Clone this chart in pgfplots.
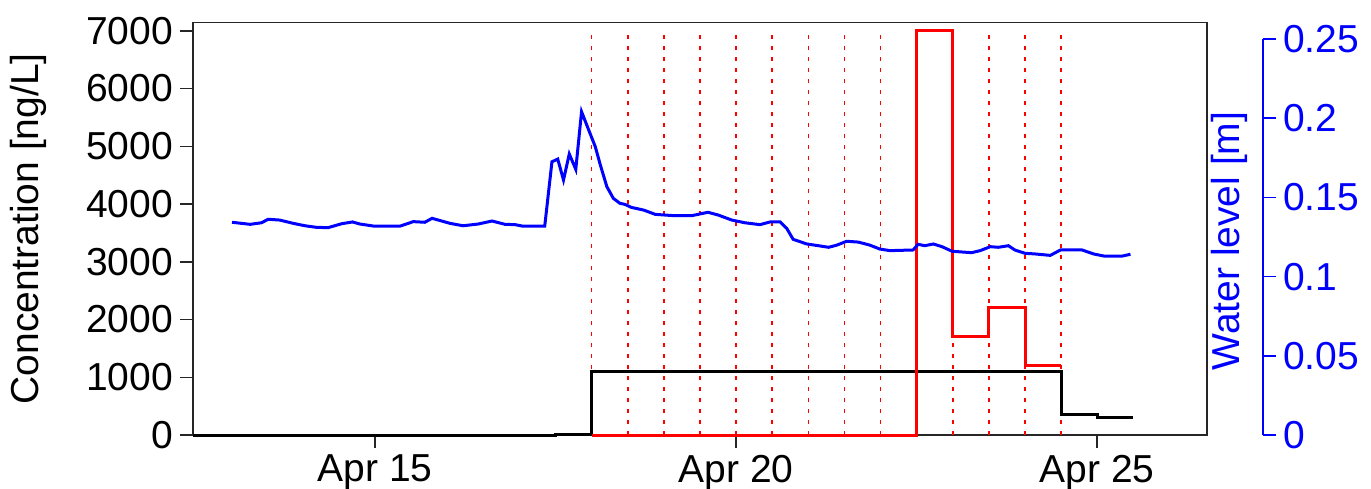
\documentclass[border=0pt]{standalone}
\usepackage{fontspec}
\setmainfont{Liberation Sans}
\usepackage{pgfplots}
\pgfplotsset{compat=1.18}
\begin{document}
\begin{tikzpicture}[font=\fontsize{19.5}{23}\selectfont]
\begin{axis}[
  at={(0,0)}, anchor=south west,
  scale only axis, width=507pt, height=206.15pt,
  xmin=12.48, xmax=26.52, ymin=0, ymax=7140,
  axis line style={black!85, line width=0.75pt},
  tick align=outside, major tick length=6.5pt,
  tick style={black!85, line width=0.75pt},
  xtick={15,20,25}, xticklabels={Apr 15,Apr 20,Apr 25},
  ytick={0,1000,2000,3000,4000,5000,6000,7000},
  yticklabels={0,1000,2000,3000,4000,5000,6000,7000},
  xtick pos=bottom, ytick pos=left,
  ylabel={Concentration [ng/L]},
  ylabel style={at={(axis description cs:-0.162,0.5)}, anchor=center},
  clip=false,
]
\addplot[red, line width=0.8pt, dash pattern=on 2pt off 3.5pt, ycomb, forget plot] coordinates {
(18,7000)(18.5,7000)(19,7000)(19.5,7000)(20,7000)(20.5,7000)(21,7000)
(21.5,7000)(22,7000)(22.5,7000)(23,7000)(23.5,7000)(24,7000)(24.5,7000)};
\addplot[black, line width=1.5pt, const plot] coordinates {
(12.48,0)(17.5,15)(18,1100)(24.5,350)(25,300)(25.5,300)};
\addplot[red, line width=1.5pt, const plot] coordinates {
(18,0)(22.5,7000)(23,1700)(23.5,2200)(24,1200)(24.5,1200)};
\end{axis}
\begin{axis}[
  at={(0,0)}, anchor=south west,
  scale only axis, width=507pt, height=198pt,
  xmin=12.48, xmax=26.52, ymin=0, ymax=0.25,
  axis x line=none, axis y line*=right,
  y axis line style={blue, line width=0.75pt, -, xshift=28pt},
  tick align=outside, major tick length=6.5pt,
  ytick={0,0.05,0.1,0.15,0.2,0.25},
  yticklabels={0,0.05,0.1,0.15,0.2,0.25},
  ytick style={blue, line width=0.75pt, xshift=28pt},
  yticklabel style={blue, xshift=28pt},
  ylabel={Water level [m]},
  ylabel style={blue, at={(axis description cs:1.0217,0.49)}, anchor=center},
  clip=false,
]
\addplot[blue, line width=1.5pt] coordinates {
(13.02,0.1343)(13.27,0.1330)(13.43,0.1340)(13.52,0.1362)(13.68,0.1357)
(13.87,0.1336)(14.03,0.1321)(14.19,0.1311)(14.35,0.1309)(14.54,0.1334)
(14.69,0.1345)(14.79,0.1332)(14.98,0.1319)(15.35,0.1319)(15.53,0.1347)
(15.69,0.1343)(15.79,0.1368)(16.04,0.1336)(16.22,0.1321)(16.43,0.1332)
(16.62,0.1351)(16.80,0.1330)(16.94,0.1328)(17.05,0.1318)(17.35,0.1318)
(17.45,0.1725)(17.53,0.1742)(17.61,0.1610)(17.69,0.1774)(17.78,0.1677)
(17.86,0.2041)(17.95,0.1936)(18.05,0.1820)(18.12,0.1705)(18.21,0.1568)
(18.30,0.1494)(18.39,0.1463)(18.46,0.1456)(18.55,0.1437)(18.72,0.1420)
(18.88,0.1393)(19.13,0.1385)(19.39,0.1385)(19.61,0.1406)(19.75,0.1389)
(19.94,0.1357)(20.12,0.1340)(20.33,0.1328)(20.47,0.1345)(20.61,0.1345)
(20.70,0.1305)(20.79,0.1235)(20.98,0.1206)(21.14,0.1195)(21.28,0.1185)
(21.39,0.1198)(21.53,0.1223)(21.69,0.1218)(21.85,0.1199)(21.99,0.1174)
(22.13,0.1164)(22.45,0.1168)(22.52,0.1204)(22.61,0.1195)(22.73,0.1206)
(22.85,0.1189)(22.99,0.1160)(23.26,0.1151)(23.38,0.1164)(23.52,0.1189)
(23.63,0.1185)(23.77,0.1195)(23.86,0.1168)(24.00,0.1147)(24.14,0.1143)
(24.35,0.1134)(24.49,0.1168)(24.63,0.1168)(24.79,0.1168)(24.95,0.1143)
(25.09,0.1130)(25.35,0.1130)(25.46,0.1141)};
\end{axis}
\pgfresetboundingbox
\path (-96.5pt,-26.5pt) rectangle (589pt,217.5pt);
\end{tikzpicture}
\end{document}
